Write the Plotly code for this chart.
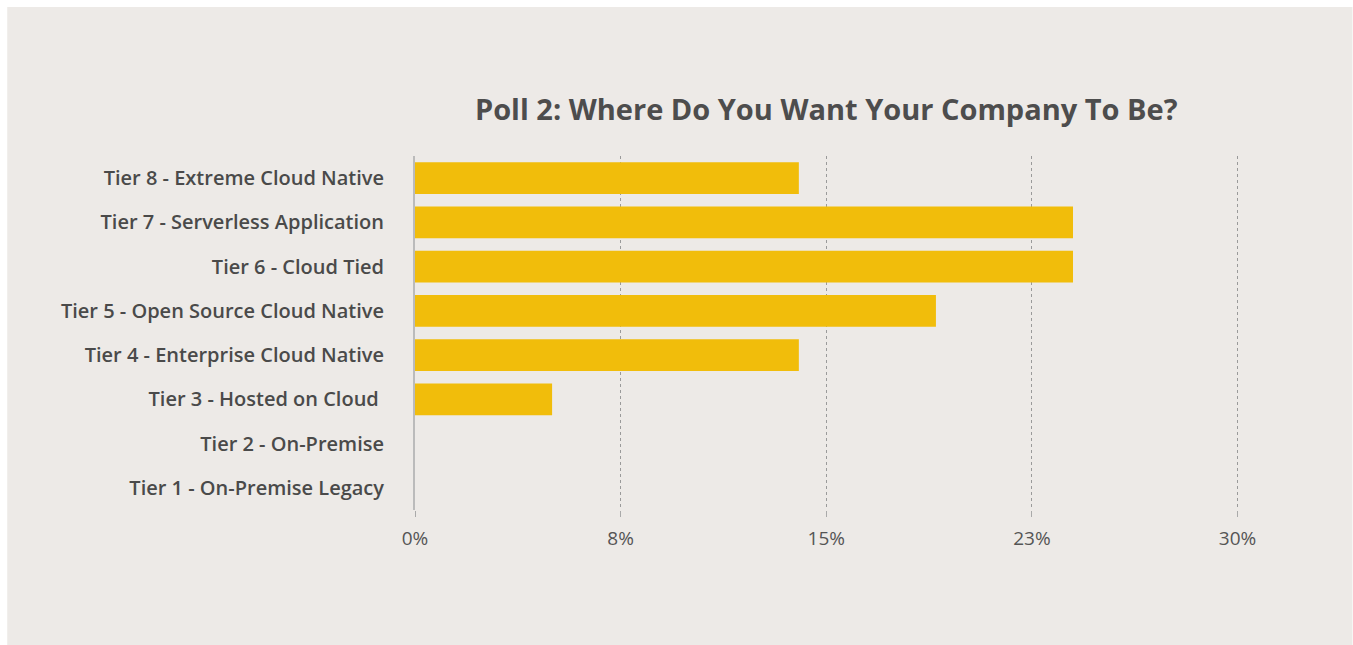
import plotly.graph_objects as go

categories = [
    "Tier 1 - On-Premise Legacy",
    "Tier 2 - On-Premise",
    "Tier 3 - Hosted on Cloud ",
    "Tier 4 - Enterprise Cloud Native",
    "Tier 5 - Open Source Cloud Native",
    "Tier 6 - Cloud Tied",
    "Tier 7 - Serverless Application",
    "Tier 8 - Extreme Cloud Native",
]
values = [0, 0, 5, 14, 19, 24, 24, 14]
tick_vals = [0, 7.5, 15, 22.5, 30]
tick_text = ["0%", "8%", "15%", "23%", "30%"]

W, H = 1353, 645
XMAX = 30.2
L, T, B = 415, 156, 510
R = L + (1238 - L) * XMAX / 30
pw, ph = R - L, B - T

def px(x):
    return (x - L) / pw

def py(y):
    return (B - y) / ph

fig = go.Figure()
fig.add_trace(go.Bar(
    x=values, y=categories, orientation="h",
    marker=dict(color="#F1BD0B", line=dict(width=0)),
    width=0.72, hoverinfo="x+y",
))

fig.update_layout(
    width=W, height=H,
    margin=dict(l=L, r=W - R, t=T, b=H - B, pad=0),
    paper_bgcolor="white",
    plot_bgcolor="rgba(0,0,0,0)",
    font=dict(family="Open Sans, sans-serif", color="#4a4a4a"),
    title=dict(
        text="<b>Poll 2: Where Do You Want Your Company To Be?</b>",
        font=dict(size=29, color="#4d4d4d", family="Open Sans, sans-serif"),
        x=px(826.5), xref="paper", xanchor="center",
        y=1 - 110 / H, yanchor="middle",
    ),
    showlegend=False,
    shapes=[dict(
        type="rect", xref="paper", yref="paper", layer="below",
        x0=px(7), x1=px(1353), y0=py(645), y1=py(7),
        fillcolor="#EDEAE7", line=dict(width=0),
    )],
)
fig.update_xaxes(
    range=[0, XMAX], tickvals=tick_vals, ticktext=tick_text,
    showgrid=True, gridcolor="#9a9a9a", griddash="dot", gridwidth=1,
    zeroline=False, showline=False,
    ticks="outside", ticklen=6, tickcolor="#aaaaaa",
    tickfont=dict(size=19, color="#555555", family="Open Sans, sans-serif"),
    ticklabelstandoff=5, fixedrange=True,
)
fig.update_yaxes(
    showline=True, linecolor="#bbbbbb", linewidth=2,
    showgrid=False, ticks="", ticklabelstandoff=25,
    tickfont=dict(size=20, color="#4a4a4a", family="Open Sans, sans-serif", weight=600),
    fixedrange=True,
)
fig.write_html("out.html")
